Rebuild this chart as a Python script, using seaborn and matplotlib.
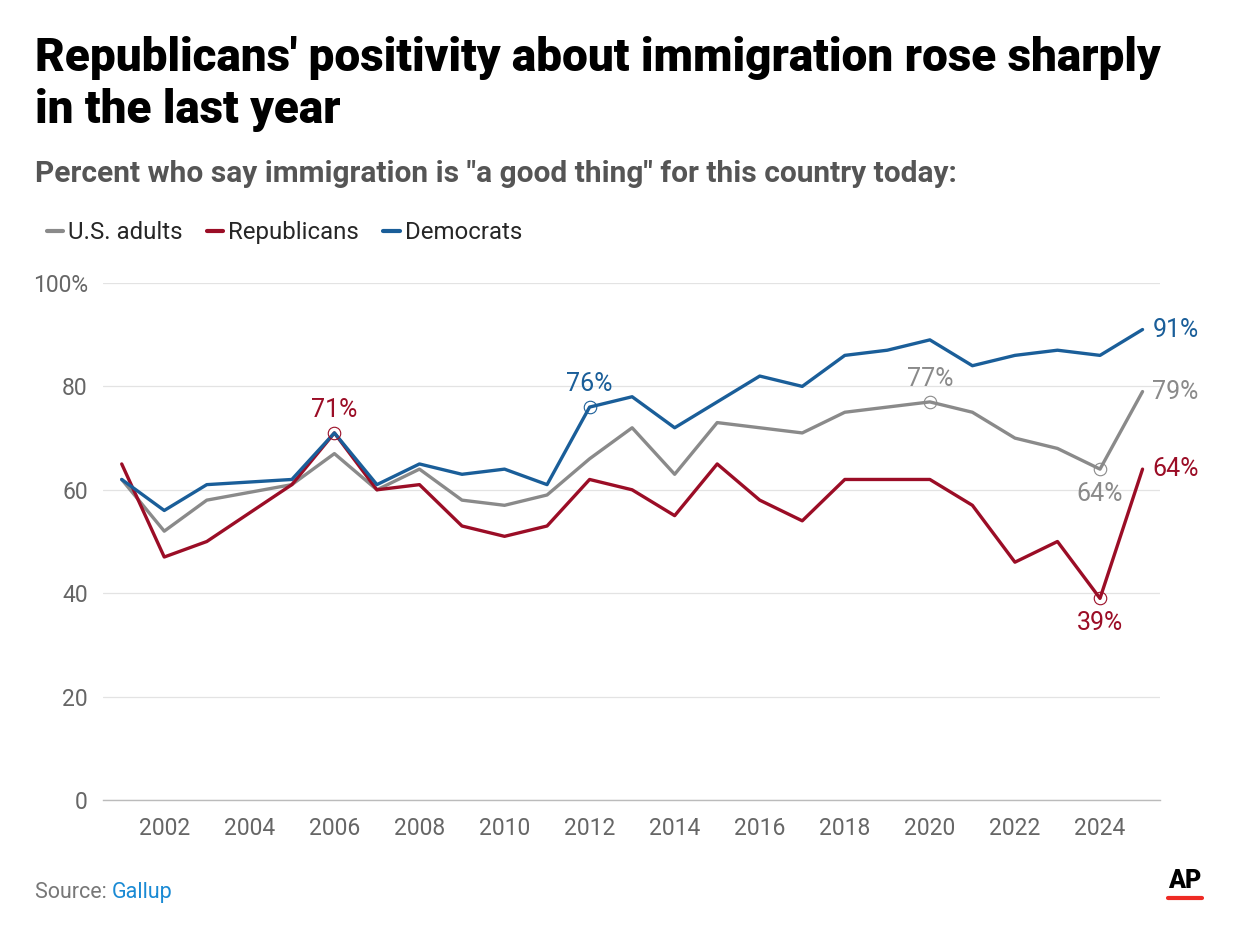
import numpy as np
import pandas as pd
import matplotlib.pyplot as plt
import seaborn as sns
from matplotlib.lines import Line2D

years = [2001, 2002, 2003, 2005, 2006, 2007, 2008, 2009, 2010, 2011, 2012, 2013,
         2014, 2015, 2016, 2017, 2018, 2019, 2020, 2021, 2022, 2023, 2024, 2025]
us_adults = [62, 52, 58, 61, 67, 60, 64, 58, 57, 59, 66, 72,
             63, 73, 72, 71, 75, 76, 77, 75, 70, 68, 64, 79]
republicans = [65, 47, 50, 61, 71, 60, 61, 53, 51, 53, 62, 60,
               55, 65, 58, 54, 62, 62, 62, 57, 46, 50, 39, 64]
democrats = [62, 56, 61, 62, 71, 61, 65, 63, 64, 61, 76, 78,
             72, 77, 82, 80, 86, 87, 89, 84, 86, 87, 86, 91]
series_names = ["U.S. adults", "Republicans", "Democrats"]
x_ticks = list(range(2002, 2025, 2))
y_ticks = [0, 20, 40, 60, 80, 100]

colors = {"U.S. adults": "#8a8a8a", "Republicans": "#9b0d26", "Democrats": "#1a5e99"}

df = pd.DataFrame({
    "year": years * 3,
    "value": us_adults + republicans + democrats,
    "group": [s for s in series_names for _ in years],
})

sns.set_style("white")
plt.rcParams["font.family"] = ["Roboto", "DejaVu Sans"]

fig = plt.figure(figsize=(12.44, 9.38), dpi=100)
ax = fig.add_axes([0.0828, 0.1471, 0.85, 0.5512])

sns.lineplot(data=df, x="year", y="value", hue="group", palette=colors,
             hue_order=series_names, linewidth=2.4, ax=ax, legend=False)

ax.set_xlim(2000.56, 2025.42)
ax.set_ylim(0, 100)
ax.set_xticks(x_ticks)
ax.set_yticks(y_ticks)
ax.set_yticklabels(["0", "20", "40", "60", "80", "100%"])
ax.tick_params(axis="both", length=0, labelsize=16.5, labelcolor="#666666")
ax.tick_params(axis="x", pad=12)
ax.tick_params(axis="y", pad=11)
ax.set_xlabel("")
ax.set_ylabel("")
ax.grid(axis="y", color="#e3e3e3", linewidth=0.9)
ax.set_axisbelow(True)
for s in ["top", "right", "left"]:
    ax.spines[s].set_visible(False)
ax.spines["bottom"].set_color("#bbbbbb")
ax.spines["bottom"].set_linewidth(1.0)

data = {"U.S. adults": us_adults, "Republicans": republicans, "Democrats": democrats}

# highlighted points with hollow circles
marks = [
    ("Republicans", 2006, "above"),
    ("Democrats", 2012, "above"),
    ("U.S. adults", 2020, "above"),
    ("U.S. adults", 2024, "below"),
    ("Republicans", 2024, "below"),
]
for name, yr, pos in marks:
    v = data[name][years.index(yr)]
    ax.plot(yr, v, marker="o", markersize=9, markerfacecolor="none",
            markeredgecolor=colors[name], markeredgewidth=0.8, zorder=5)
    if pos == "above":
        ax.annotate(f"{v}%", (yr, v), xytext=(0, 8), textcoords="offset points",
                    ha="center", va="bottom", fontsize=18, color=colors[name])
    else:
        ax.annotate(f"{v}%", (yr, v), xytext=(0, -9), textcoords="offset points",
                    ha="center", va="top", fontsize=18, color=colors[name])

# end labels
for name in series_names:
    v = data[name][-1]
    ax.annotate(f"{v}%", (years[-1], v), xytext=(7, 0), textcoords="offset points",
                ha="left", va="center", fontsize=18, color=colors[name],
                annotation_clip=False)

# title and subtitle
fig.text(0.028, 0.962, "Republicans' positivity about immigration rose sharply\nin the last year",
         fontsize=33, fontweight="black", color="black", va="top", ha="left",
         linespacing=1.25)
fig.text(0.028, 0.814, "Percent who say immigration is \"a good thing\" for this country today:",
         fontsize=21.5, fontweight="semibold", color="#555555", va="center", ha="left")

# legend
handles = [Line2D([0], [0], color=colors[n], linewidth=3) for n in series_names]
fig.legend(handles, series_names, loc="center left", bbox_to_anchor=(0.02, 0.752),
           ncol=3, frameon=False, fontsize=17.3, handlelength=0.7, handletextpad=0.2,
           columnspacing=1.0)

# source and logo
src = fig.text(0.028, 0.048, "Source: ", fontsize=15.5, color="#777777", va="center", ha="left")
fig.canvas.draw()
bb = src.get_window_extent()
fig.text(bb.x1 / fig.bbox.width, 0.048, "Gallup", fontsize=15.5, color="#1a8ad4",
         va="center", ha="left")
fig.text(0.952, 0.061, "AP", fontsize=18, fontweight="black", color="black",
         ha="center", va="center")
fig.add_artist(Line2D([0.939, 0.966], [0.043, 0.043], color="#ee2a24", linewidth=3))

fig.savefig("out.png", dpi=100)
